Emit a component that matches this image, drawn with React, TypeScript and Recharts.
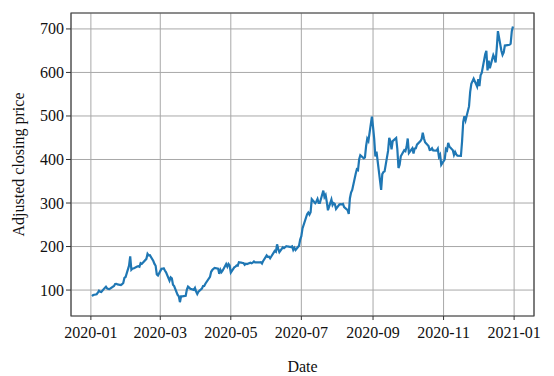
import React from "react";
import {
  LineChart,
  Line,
  XAxis,
  YAxis,
  CartesianGrid,
  ReferenceArea,
  Label,
} from "recharts";

const dates: string[] = [
  "2020-01-02","2020-01-03","2020-01-06","2020-01-07","2020-01-08","2020-01-09","2020-01-10","2020-01-13","2020-01-14","2020-01-15","2020-01-16","2020-01-17","2020-01-21","2020-01-22","2020-01-23","2020-01-24","2020-01-27","2020-01-28","2020-01-29","2020-01-30","2020-01-31",
  "2020-02-03","2020-02-04","2020-02-05","2020-02-06","2020-02-07","2020-02-10","2020-02-11","2020-02-12","2020-02-13","2020-02-14","2020-02-18","2020-02-19","2020-02-20","2020-02-21","2020-02-24","2020-02-25","2020-02-26","2020-02-27","2020-02-28",
  "2020-03-02","2020-03-03","2020-03-04","2020-03-05","2020-03-06","2020-03-09","2020-03-10","2020-03-11","2020-03-12","2020-03-13","2020-03-16","2020-03-17","2020-03-18","2020-03-19","2020-03-20","2020-03-23","2020-03-24","2020-03-25","2020-03-26","2020-03-27","2020-03-30","2020-03-31",
  "2020-04-01","2020-04-02","2020-04-03","2020-04-06","2020-04-07","2020-04-08","2020-04-09","2020-04-13","2020-04-14","2020-04-15","2020-04-16","2020-04-17","2020-04-20","2020-04-21","2020-04-22","2020-04-23","2020-04-24","2020-04-27","2020-04-28","2020-04-29","2020-04-30",
  "2020-05-01","2020-05-04","2020-05-05","2020-05-06","2020-05-07","2020-05-08","2020-05-11","2020-05-12","2020-05-13","2020-05-14","2020-05-15","2020-05-18","2020-05-19","2020-05-20","2020-05-21","2020-05-22","2020-05-26","2020-05-27","2020-05-28","2020-05-29",
  "2020-06-01","2020-06-02","2020-06-03","2020-06-04","2020-06-05","2020-06-08","2020-06-09","2020-06-10","2020-06-11","2020-06-12","2020-06-15","2020-06-16","2020-06-17","2020-06-18","2020-06-19","2020-06-22","2020-06-23","2020-06-24","2020-06-25","2020-06-26","2020-06-29","2020-06-30",
  "2020-07-01","2020-07-02","2020-07-06","2020-07-07","2020-07-08","2020-07-09","2020-07-10","2020-07-13","2020-07-14","2020-07-15","2020-07-16","2020-07-17","2020-07-20","2020-07-21","2020-07-22","2020-07-23","2020-07-24","2020-07-27","2020-07-28","2020-07-29","2020-07-30","2020-07-31",
  "2020-08-03","2020-08-04","2020-08-05","2020-08-06","2020-08-07","2020-08-10","2020-08-11","2020-08-12","2020-08-13","2020-08-14","2020-08-17","2020-08-18","2020-08-19","2020-08-20","2020-08-21","2020-08-24","2020-08-25","2020-08-26","2020-08-27","2020-08-28","2020-08-31",
  "2020-09-01","2020-09-02","2020-09-03","2020-09-04","2020-09-08","2020-09-09","2020-09-10","2020-09-11","2020-09-14","2020-09-15","2020-09-16","2020-09-17","2020-09-18","2020-09-21","2020-09-22","2020-09-23","2020-09-24","2020-09-25","2020-09-28","2020-09-29","2020-09-30",
  "2020-10-01","2020-10-02","2020-10-05","2020-10-06","2020-10-07","2020-10-08","2020-10-09","2020-10-12","2020-10-13","2020-10-14","2020-10-15","2020-10-16","2020-10-19","2020-10-20","2020-10-21","2020-10-22","2020-10-23","2020-10-26","2020-10-27","2020-10-28","2020-10-29","2020-10-30",
  "2020-11-02","2020-11-03","2020-11-04","2020-11-05","2020-11-06","2020-11-09","2020-11-10","2020-11-11","2020-11-12","2020-11-13","2020-11-16","2020-11-17","2020-11-18","2020-11-19","2020-11-20","2020-11-23","2020-11-24","2020-11-25","2020-11-27","2020-11-30",
  "2020-12-01","2020-12-02","2020-12-03","2020-12-04","2020-12-07","2020-12-08","2020-12-09","2020-12-10","2020-12-11","2020-12-14","2020-12-15","2020-12-16","2020-12-17","2020-12-18","2020-12-21","2020-12-22","2020-12-23","2020-12-24","2020-12-28","2020-12-29","2020-12-30","2020-12-31",
];

const prices: number[] = [
  86.05,88.6,90.3,93.8,98.4,96.3,95.6,105.0,107.6,103.7,102.7,102.1,109.4,113.9,114.4,113.0,111.6,113.4,116.2,128.2,130.1,
  156.0,177.4,146.9,149.8,149.6,154.3,154.9,153.5,161.6,160.0,171.7,183.5,179.9,180.0,166.8,160.0,155.8,135.8,133.6,
  148.7,149.1,149.9,144.9,140.7,121.6,129.1,126.8,112.1,109.3,89.0,86.0,72.2,85.5,85.5,86.9,101.0,107.8,105.6,102.9,100.4,104.8,
  96.3,90.9,96.0,103.2,109.1,109.4,114.6,130.2,142.0,146.0,149.0,150.8,149.3,137.3,146.4,141.1,145.0,159.8,153.8,160.1,156.4,
  140.3,152.2,153.6,156.5,156.0,163.9,162.3,161.9,158.2,160.7,159.8,162.7,161.6,163.1,165.5,163.4,163.8,164.1,161.2,167.0,
  179.6,176.3,176.6,172.9,177.1,190.0,188.1,205.0,194.6,187.1,198.2,196.4,198.4,200.8,200.2,198.9,200.4,192.2,197.2,192.0,201.9,216.0,
  223.9,241.7,274.3,278.0,273.2,278.9,308.9,299.4,303.4,309.2,300.1,300.2,328.6,313.7,318.5,302.6,283.4,307.9,295.3,299.8,297.5,286.2,
  297.0,297.4,297.0,297.9,290.5,283.7,274.9,311.0,324.2,330.1,367.1,377.4,375.7,400.4,410.0,402.8,404.7,430.6,447.8,442.7,498.3,
  475.1,447.4,407.0,418.3,330.2,366.3,371.3,372.7,419.6,449.8,441.8,423.4,442.2,449.4,424.2,380.4,387.8,407.3,421.2,419.1,429.0,
  448.2,415.1,425.7,414.0,425.3,425.9,434.0,442.3,446.7,461.3,448.9,439.7,430.8,421.9,422.6,425.8,420.6,420.3,424.7,406.0,410.8,388.0,
  400.5,423.9,421.0,438.1,430.0,421.3,410.4,417.1,411.8,408.5,408.1,441.6,486.6,499.3,489.6,521.9,555.4,574.0,585.8,567.6,
  584.8,568.8,593.4,599.0,641.8,649.9,604.5,627.1,610.0,639.8,633.3,622.8,655.9,695.0,649.9,640.3,646.0,661.8,663.7,666.0,694.8,705.7,
];

const xTickDates: string[] = ["2020-01-01","2020-03-01","2020-05-01","2020-07-01","2020-09-01","2020-11-01","2021-01-01"];
const xTickLabels: string[] = ["2020-01","2020-03","2020-05","2020-07","2020-09","2020-11","2021-01"];
const yTicks: number[] = [100, 200, 300, 400, 500, 600, 700];

const DAY = 86400000;
const origin = Date.UTC(2020, 0, 1);
const toDay = (s: string) => {
  const [y, m, d] = s.split("-").map(Number);
  return (Date.UTC(y, m - 1, d) - origin) / DAY;
};

const data = dates.map((d, i) => ({ day: toDay(d), price: prices[i] }));
const xTicks = xTickDates.map(toDay);
const tickLabelFor = (v: number) => {
  const i = xTicks.indexOf(v);
  return i >= 0 ? xTickLabels[i] : "";
};

const X_DOMAIN: [number, number] = [-17.2, 383.2];
const Y_DOMAIN: [number, number] = [40.4, 736.6];
const FONT = "'Liberation Serif', 'DejaVu Serif', serif";
const textStyle = { fontFamily: FONT, fontSize: 16, fill: "#111" };

const XTick = (props: any) => {
  const { x, y, payload } = props;
  return (
    <g>
      <text x={x} y={y + 12} textAnchor="middle" style={textStyle}>
        {tickLabelFor(payload.value)}
      </text>
    </g>
  );
};

const YTick = (props: any) => {
  const { x, y, payload } = props;
  return (
    <g>
      <text x={x} y={y + 5.5} textAnchor="end" style={textStyle}>
        {String(payload.value)}
      </text>
    </g>
  );
};

export default function App() {
  return (
    <div style={{ position: "absolute", left: 0, top: 0, background: "#fff", fontFamily: FONT }}>
      <LineChart
        width={554}
        height={376}
        data={data}
        margin={{ top: 13, right: 20, bottom: 0, left: 0 }}
        style={{ fontFamily: FONT }}
      >
        <CartesianGrid stroke="#a8a8a8" strokeWidth={1} />
        <XAxis
          dataKey="day"
          type="number"
          domain={X_DOMAIN}
          ticks={xTicks}
          allowDataOverflow
          height={60}
          tickSize={4}
          tickMargin={6}
          axisLine={false}
          tickLine={{ stroke: "#333" }}
          tick={XTick}
          interval={0}
        >
          <Label
            content={({ viewBox }: any) => (
              <text
                x={viewBox.x + viewBox.width / 2}
                y={372}
                textAnchor="middle"
                style={textStyle}
              >
                Date
              </text>
            )}
          />
        </XAxis>
        <YAxis
          type="number"
          domain={Y_DOMAIN}
          ticks={yTicks}
          allowDataOverflow
          width={71}
          tickSize={5}
          tickMargin={2}
          axisLine={false}
          tickLine={{ stroke: "#333" }}
          tick={YTick}
          interval={0}
        >
          <Label
            content={({ viewBox }: any) => {
              const cx = 18;
              const cy = viewBox.y + viewBox.height / 2;
              return (
                <text
                  x={cx}
                  y={cy}
                  transform={`rotate(-90, ${cx}, ${cy})`}
                  textAnchor="middle"
                  dominantBaseline="central"
                  style={textStyle}
                >
                  Adjusted closing price
                </text>
              );
            }}
          />
        </YAxis>
        <ReferenceArea
          x1={X_DOMAIN[0]}
          x2={X_DOMAIN[1]}
          y1={Y_DOMAIN[0]}
          y2={Y_DOMAIN[1]}
          fill="none"
          stroke="#444"
          strokeWidth={1.2}
          ifOverflow="visible"
        />
        <Line
          type="linear"
          dataKey="price"
          stroke="#1f77b4"
          strokeWidth={2.2}
          dot={false}
          isAnimationActive={false}
        />
      </LineChart>
    </div>
  );
}
